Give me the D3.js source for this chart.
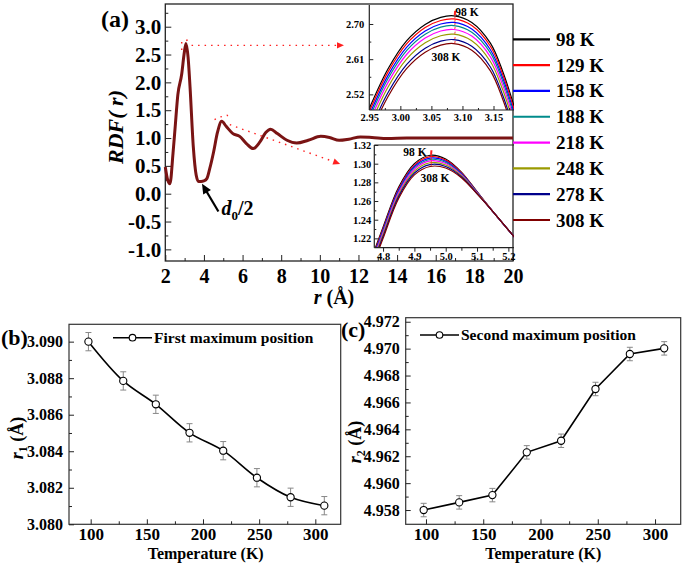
<!DOCTYPE html>
<html><head><meta charset="utf-8">
<script src="https://cdn.jsdelivr.net/npm/d3@7"></script>
<style>
body{margin:0;background:#fff;}
svg{display:block;background:#fff;}
</style></head><body>
<svg id="c" width="685" height="566"></svg>
<script>
// ---------------- DATA ----------------
const temps = [98, 129, 158, 188, 218, 248, 278, 308];
const tempLabels = ["98 K", "129 K", "158 K", "188 K", "218 K", "248 K", "278 K", "308 K"];
const seriesColors = ["#000000", "#ff0000", "#0000ff", "#008b8b", "#ff00ff", "#9a9a00", "#00008b", "#800000"];

// main RDF curve (all temperatures coincide at this scale)
const rdfR = [2.0, 2.12, 2.24, 2.4, 2.5, 2.65, 2.85, 2.97, 3.07, 3.18, 3.28, 3.45, 3.6, 3.72, 3.85, 4.0, 4.15, 4.3, 4.5, 4.7, 4.92, 5.15, 5.5, 5.85, 6.2, 6.55, 6.9, 7.2, 7.45, 7.8, 8.3, 8.8, 9.4, 10.05, 10.5, 11.0, 11.5, 12.1, 12.7, 13.5, 14.5, 15.5, 16.5, 17.5, 18.5, 20.0];
const rdfG = [0.48, 0.25, 0.18, 0.73, 1.15, 1.78, 2.15, 2.5, 2.70, 2.45, 1.92, 0.84, 0.33, 0.22, 0.22, 0.23, 0.27, 0.45, 0.75, 1.1, 1.30, 1.21, 1.08, 1.03, 0.90, 0.81, 0.93, 1.10, 1.16, 1.08, 0.96, 0.91, 0.96, 1.03, 1.01, 0.96, 0.98, 1.02, 1.01, 0.99, 1.0, 1.0, 1.0, 1.0, 1.0, 1.0];

// inset 1: first peak
const peak1R = [2.95, 2.98, 3.01, 3.04, 3.065, 3.086, 3.115, 3.145, 3.165, 3.183];
const peak1G = [
  [2.484, 2.585, 2.657, 2.699, 2.717, 2.721, 2.704, 2.651, 2.578, 2.490],
  [2.476, 2.577, 2.649, 2.691, 2.709, 2.713, 2.696, 2.643, 2.570, 2.482],
  [2.467, 2.568, 2.640, 2.682, 2.700, 2.704, 2.687, 2.634, 2.561, 2.473],
  [2.459, 2.560, 2.632, 2.674, 2.692, 2.696, 2.679, 2.626, 2.553, 2.465],
  [2.449, 2.550, 2.622, 2.664, 2.682, 2.686, 2.669, 2.616, 2.543, 2.455],
  [2.437, 2.538, 2.610, 2.652, 2.670, 2.674, 2.657, 2.604, 2.531, 2.443],
  [2.423, 2.524, 2.596, 2.638, 2.656, 2.660, 2.643, 2.590, 2.517, 2.429],
  [2.413, 2.514, 2.586, 2.628, 2.646, 2.650, 2.633, 2.580, 2.507, 2.419]
];

// inset 2: second peak
const peak2R = [4.77, 4.80, 4.85, 4.90, 4.95, 5.00, 5.05, 5.10, 5.15, 5.22];
const peak2G = [
  [1.2050, 1.2320, 1.2750, 1.3000, 1.3090, 1.3050, 1.2910, 1.2700, 1.249, 1.221],
  [1.2035, 1.2305, 1.2735, 1.2985, 1.3075, 1.3038, 1.2903, 1.2697, 1.249, 1.221],
  [1.2020, 1.2290, 1.2720, 1.2970, 1.3060, 1.3026, 1.2895, 1.2694, 1.249, 1.221],
  [1.2005, 1.2275, 1.2705, 1.2955, 1.3045, 1.3014, 1.2888, 1.2691, 1.249, 1.221],
  [1.1990, 1.2260, 1.2690, 1.2940, 1.3030, 1.3002, 1.2880, 1.2688, 1.249, 1.221],
  [1.1970, 1.2240, 1.2670, 1.2920, 1.3010, 1.2986, 1.2870, 1.2684, 1.249, 1.221],
  [1.1950, 1.2220, 1.2650, 1.2900, 1.2990, 1.2970, 1.2860, 1.2680, 1.249, 1.221],
  [1.1930, 1.2200, 1.2630, 1.2880, 1.2970, 1.2954, 1.2850, 1.2676, 1.249, 1.221]
];

// panel (b) and (c)
const firstMax = [3.0900, 3.08785, 3.08657, 3.08501, 3.08403, 3.08255, 3.08148, 3.08102];
const firstMaxErr = [0.0005, 0.0005, 0.0005, 0.0005, 0.0005, 0.0005, 0.0005, 0.0005];
const secondMax = [4.9580, 4.95857, 4.95911, 4.96229, 4.96315, 4.96700, 4.96960, 4.97002];
const secondMaxErr = [0.0005, 0.0005, 0.0005, 0.0005, 0.0005, 0.0005, 0.0005, 0.0005];

// tick values
const mainXTicks = [2, 4, 6, 8, 10, 12, 14, 16, 18, 20];
const mainXMinor = [3, 5, 7, 9, 11, 13, 15, 17, 19];
const mainYTicks = [-1.0, -0.5, 0.0, 0.5, 1.0, 1.5, 2.0, 2.5, 3.0];
const mainYMinor = [-0.75, -0.25, 0.25, 0.75, 1.25, 1.75, 2.25, 2.75, 3.25];
const in1XTicks = [2.95, 3.00, 3.05, 3.10, 3.15];
const in1XMinor = [2.975, 3.025, 3.075, 3.125, 3.175];
const in1YTicks = [2.52, 2.61, 2.70];
const in1YMinor = [2.565, 2.655];
const in2XTicks = [4.8, 4.9, 5.0, 5.1, 5.2];
const in2XMinor = [4.85, 4.95, 5.05, 5.15];
const in2YTicks = [1.22, 1.24, 1.26, 1.28, 1.30, 1.32];
const in2YMinor = [1.23, 1.25, 1.27, 1.29, 1.31];
const tempTicks = [100, 150, 200, 250, 300];
const tempMinor = [125, 175, 225, 275];
const bYTicks = [3.080, 3.082, 3.084, 3.086, 3.088, 3.090];
const bYMinor = [3.081, 3.083, 3.085, 3.087, 3.089];
const cYTicks = [4.958, 4.960, 4.962, 4.964, 4.966, 4.968, 4.970, 4.972];
const cYMinor = [4.959, 4.961, 4.963, 4.965, 4.967, 4.969, 4.971];

// ---------------- DRAW ----------------
const FONT = "'Liberation Serif','Times New Roman',serif";
const svg = d3.select("#c").attr("font-family", FONT).attr("font-weight", "bold");
const AX = "#222";

function drawAxis(kind, pos, scale, majors, minors, fmt, len, mlen, pad, fs) {
  const mk = s => kind === "left" ? d3.axisLeft(s) : d3.axisBottom(s);
  const tr = kind === "left" ? `translate(${pos},0)` : `translate(0,${pos})`;
  if (minors) {
    const gm = svg.append("g").attr("transform", tr)
      .call(mk(scale).tickValues(minors).tickSize(mlen).tickFormat(""));
    gm.select(".domain").remove();
    gm.selectAll("line").attr("stroke", AX);
  }
  const g = svg.append("g").attr("transform", tr)
    .call(mk(scale).tickValues(majors).tickSize(len).tickPadding(pad).tickFormat(fmt));
  g.select(".domain").remove();
  g.attr("font-family", FONT).attr("font-size", fs).attr("font-weight", "bold");
  g.selectAll("line").attr("stroke", AX);
  g.selectAll("text").attr("fill", "#000");
  return g;
}

// ===== Panel (a) main =====
const aL = 165.3, aR = 513, aT = 4, aB = 261;
const xA = d3.scaleLinear().domain([2, 20]).range([aL, aR]);
const yA = d3.scaleLinear().domain([-1.209, 3.408]).range([aB, aT]);

svg.append("rect").attr("x", aL).attr("y", aT).attr("width", aR - aL).attr("height", aB - aT)
  .attr("fill", "none").attr("stroke", AX).attr("stroke-width", 1.3);
drawAxis("bottom", aB, xA, mainXTicks, mainXMinor, d => d, -6, -3, 8, 20);
drawAxis("left", aL, yA, mainYTicks, mainYMinor, d => d.toFixed(1), -6, -3, 4, 21);

const rdfLine = d3.line().x(d => xA(d[0])).y(d => yA(d[1])).curve(d3.curveMonotoneX);
svg.append("path").datum(rdfR.map((r, i) => [r, rdfG[i]]))
  .attr("d", rdfLine).attr("fill", "none").attr("stroke", "#7a1414").attr("stroke-width", 3);

// red dotted zoom indicators
const red = "#ff2020";
const dl = d3.line().x(d => xA(d[0])).y(d => yA(d[1]));
function dotted(pts) {
  svg.append("path").attr("d", dl(pts)).attr("fill", "none").attr("stroke", red)
    .attr("stroke-width", 1.4).attr("stroke-dasharray", "1.5,5");
}
function arrowHead(p0, p1, color, size) {
  const x0 = xA(p0[0]), y0 = yA(p0[1]), x1 = xA(p1[0]), y1 = yA(p1[1]);
  const a = Math.atan2(y1 - y0, x1 - x0);
  const pts = [[x1, y1],
    [x1 - size * Math.cos(a) + size * 0.45 * Math.sin(a), y1 - size * Math.sin(a) - size * 0.45 * Math.cos(a)],
    [x1 - size * Math.cos(a) - size * 0.45 * Math.sin(a), y1 - size * Math.sin(a) + size * 0.45 * Math.cos(a)]];
  svg.append("polygon").attr("points", pts.map(p => p.join(",")).join(" ")).attr("fill", color);
}
dotted([[2.85, 2.58], [2.85, 2.73], [3.25, 2.77]]);
dotted([[3.36, 2.665], [11.0, 2.665]]);
arrowHead([3.36, 2.665], [11.25, 2.665], red, 7);
dotted([[4.55, 1.33], [4.75, 1.37], [5.2, 1.41], [5.4, 1.33]]);
dotted([[5.34, 1.24], [10.85, 0.56]]);
arrowHead([5.34, 1.24], [11.05, 0.535], red, 7);

// d0/2 arrow
svg.append("line").attr("x1", xA(4.75)).attr("y1", yA(-0.32)).attr("x2", xA(4.05)).attr("y2", yA(0.09))
  .attr("stroke", "#000").attr("stroke-width", 2.2);
arrowHead([4.75, -0.32], [3.9, 0.18], "#000", 10);
const dt = svg.append("text").attr("x", 221.5).attr("y", 215).attr("font-size", 20);
dt.append("tspan").attr("font-style", "italic").text("d");
dt.append("tspan").attr("font-size", 13).attr("dy", 5).text("0");
dt.append("tspan").attr("dy", -5).text("/2");

// axis titles & panel label
const yt = svg.append("text").attr("transform", "translate(123,127) rotate(-90)")
  .attr("text-anchor", "middle").attr("font-size", 22).attr("font-style", "italic");
yt.text("RDF( r)");
const xt = svg.append("text").attr("x", 334).attr("y", 304).attr("text-anchor", "middle").attr("font-size", 20);
xt.append("tspan").attr("font-style", "italic").text("r");
xt.append("tspan").text(" (Å)");
svg.append("text").attr("x", 101).attr("y", 27).attr("font-size", 24).text("(a)");

// ===== Inset 1 =====
const i1L = 369.3, i1R = 514, i1T = 5, i1B = 110;
const xI1 = d3.scaleLinear().domain([2.95, 3.183]).range([i1L, i1R]);
const yI1 = d3.scaleLinear().domain([2.48, 2.7486]).range([i1B, i1T]);
svg.append("clipPath").attr("id", "clip1").append("rect")
  .attr("x", i1L).attr("y", i1T).attr("width", i1R - i1L).attr("height", i1B - i1T);
const g1 = svg.append("g").attr("clip-path", "url(#clip1)");
const l1 = d3.line().x(d => xI1(d[0])).y(d => yI1(d[1])).curve(d3.curveCatmullRom.alpha(0.5));
peak1G.forEach((ser, k) => {
  g1.append("path").datum(peak1R.map((r, i) => [r, ser[i]])).attr("d", l1)
    .attr("fill", "none").attr("stroke", seriesColors[k]).attr("stroke-width", 1.2);
});
peak1G.forEach((ser, k) => {
  const im = d3.maxIndex(ser);
  const px = xI1(peak1R[im]) + 1, py = yI1(ser[im]);
  g1.append("line").attr("x1", px + 0.4).attr("x2", px)
    .attr("y1", k === 0 ? py - 5 : py - 2.5).attr("y2", py - 0.5)
    .attr("stroke", red).attr("stroke-width", k === 0 ? 2 : 0.9);
});
svg.append("line").attr("x1", i1L).attr("x2", i1L).attr("y1", i1T).attr("y2", i1B).attr("stroke", AX).attr("stroke-width", 1.2);
svg.append("line").attr("x1", i1L).attr("x2", i1R).attr("y1", i1B).attr("y2", i1B).attr("stroke", AX).attr("stroke-width", 1.2);
drawAxis("bottom", i1B, xI1, in1XTicks, in1XMinor, d => d.toFixed(2), -4, -2, 4, 10.5);
drawAxis("left", i1L, yI1, in1YTicks, in1YMinor, d => d.toFixed(2), -4, -2, 5, 10.5);
svg.append("text").attr("x", 467).attr("y", 15.5).attr("text-anchor", "middle").attr("font-size", 11.5).text("98 K");
svg.append("text").attr("x", 446).attr("y", 61).attr("text-anchor", "middle").attr("font-size", 11.5).text("308 K");

// ===== Inset 2 =====
const i2L = 374.3, i2R = 514, i2T = 145, i2B = 247.7;
const xI2 = d3.scaleLinear().domain([4.772, 5.218]).range([i2L, i2R]);
const yI2 = d3.scaleLinear().domain([1.21, 1.32]).range([i2B, i2T]);
svg.append("clipPath").attr("id", "clip2").append("rect")
  .attr("x", i2L).attr("y", i2T).attr("width", i2R - i2L).attr("height", i2B - i2T);
const g2 = svg.append("g").attr("clip-path", "url(#clip2)");
const l2 = d3.line().x(d => xI2(d[0])).y(d => yI2(d[1])).curve(d3.curveCatmullRom.alpha(0.5));
peak2G.forEach((ser, k) => {
  g2.append("path").datum(peak2R.map((r, i) => [r, ser[i]])).attr("d", l2)
    .attr("fill", "none").attr("stroke", seriesColors[k]).attr("stroke-width", 1.2);
});
peak2G.forEach((ser, k) => {
  const im = d3.maxIndex(ser);
  const px = xI2(peak2R[im]) + 1, py = yI2(ser[im]);
  g2.append("line").attr("x1", px + 0.4).attr("x2", px)
    .attr("y1", k === 0 ? py - 5 : py - 2).attr("y2", py - 0.5)
    .attr("stroke", red).attr("stroke-width", k === 0 ? 2 : 0.9);
});
svg.append("line").attr("x1", i2L).attr("x2", i2R).attr("y1", i2T).attr("y2", i2T).attr("stroke", AX).attr("stroke-width", 1.2);
svg.append("line").attr("x1", i2L).attr("x2", i2L).attr("y1", i2T).attr("y2", i2B).attr("stroke", AX).attr("stroke-width", 1.2);
svg.append("line").attr("x1", i2L).attr("x2", i2R).attr("y1", i2B).attr("y2", i2B).attr("stroke", AX).attr("stroke-width", 1.2);
drawAxis("bottom", i2B, xI2, in2XTicks, in2XMinor, d => d.toFixed(1), 4, 3, 1, 10.5);
drawAxis("left", i2L, yI2, in2YTicks, in2YMinor, d => d.toFixed(2), -4, -2, 3, 10.5);
svg.append("text").attr("x", 415).attr("y", 155.5).attr("text-anchor", "middle").attr("font-size", 11.5).text("98 K");
svg.append("text").attr("x", 435).attr("y", 182).attr("text-anchor", "middle").attr("font-size", 11.5).text("308 K");

// ===== Legend (a) =====
const legY = d3.scalePoint().domain(tempLabels).range([39.3, 220]);
tempLabels.forEach((lab, k) => {
  svg.append("line").attr("x1", aR).attr("x2", 550).attr("y1", legY(lab)).attr("y2", legY(lab))
    .attr("stroke", seriesColors[k]).attr("stroke-width", 2.2);
  svg.append("text").attr("x", 556).attr("y", legY(lab) + 6.5).attr("font-size", 19).text(lab);
});

// ===== Panels (b) & (c) =====
function tempPanel(opt) {
  const { L, R, T, B, xDom, yDom, vals, errs, yTicks, yMinor, fmt, curve, legX, legY, legText, label, labelPos, yTitleSub, yTitleX, yTitleY, xTitleX, xTitleY } = opt;
  const x = d3.scaleLinear().domain(xDom).range([L, R]);
  const y = d3.scaleLinear().domain(yDom).range([B, T]);
  svg.append("rect").attr("x", L).attr("y", T).attr("width", R - L).attr("height", B - T)
    .attr("fill", "none").attr("stroke", "#333").attr("stroke-width", 1.2);
  drawAxis("bottom", B, x, tempTicks, tempMinor, d => d, -5, -3, 4, 17);
  drawAxis("left", L, y, yTicks, yMinor, fmt, -5, -3, 6, 16);
  // error bars
  temps.forEach((t, i) => {
    const cx = x(t), y1 = y(vals[i] - errs[i]), y2 = y(vals[i] + errs[i]);
    svg.append("line").attr("x1", cx).attr("x2", cx).attr("y1", y1).attr("y2", y2).attr("stroke", "#888").attr("stroke-width", 1);
    [y1, y2].forEach(yy => svg.append("line").attr("x1", cx - 3).attr("x2", cx + 3).attr("y1", yy).attr("y2", yy).attr("stroke", "#888").attr("stroke-width", 1));
  });
  const ln = d3.line().x((d, i) => x(temps[i])).y(d => y(d)).curve(curve);
  svg.append("path").datum(vals).attr("d", ln).attr("fill", "none").attr("stroke", "#000").attr("stroke-width", 1.6);
  temps.forEach((t, i) => {
    svg.append("circle").attr("cx", x(t)).attr("cy", y(vals[i])).attr("r", 3.6)
      .attr("fill", "#fff").attr("stroke", "#000").attr("stroke-width", 1.1);
  });
  // legend
  svg.append("line").attr("x1", legX).attr("x2", legX + 39).attr("y1", legY).attr("y2", legY).attr("stroke", "#000").attr("stroke-width", 1.6);
  svg.append("circle").attr("cx", legX + 19.5).attr("cy", legY).attr("r", 3.3).attr("fill", "#fff").attr("stroke", "#000").attr("stroke-width", 1.1);
  svg.append("text").attr("x", legX + 41).attr("y", legY + 5.3).attr("font-size", 15.5).text(legText);
  svg.append("text").attr("x", labelPos[0]).attr("y", labelPos[1]).attr("font-size", 22).text(label);
  const yt = svg.append("text").attr("transform", `translate(${yTitleX},${yTitleY}) rotate(-90)`)
    .attr("text-anchor", "middle").attr("font-size", 18);
  yt.append("tspan").attr("font-style", "italic").text("r");
  yt.append("tspan").attr("font-size", 12).attr("dy", 4).text(yTitleSub);
  yt.append("tspan").attr("dy", -4).text(" (Å)");
  svg.append("text").attr("x", xTitleX).attr("y", xTitleY).attr("text-anchor", "middle").attr("font-size", 16).text("Temperature (K)");
}

tempPanel({
  L: 69, R: 340.7, T: 324.3, B: 524.3, xDom: [80.7, 322.6], yDom: [3.080, 3.09095],
  vals: firstMax, errs: firstMaxErr, yTicks: bYTicks, yMinor: bYMinor, fmt: d => d.toFixed(3),
  curve: d3.curveCatmullRom.alpha(0.5), legX: 113, legY: 337.7, legText: "First maximum position",
  label: "(b)", labelPos: [1, 345], yTitleSub: "1", yTitleX: 23, yTitleY: 438, xTitleX: 205.7, xTitleY: 559
});
tempPanel({
  L: 405.7, R: 680.7, T: 317.7, B: 524.3, xDom: [82.3, 322.4], yDom: [4.95694, 4.9723],
  vals: secondMax, errs: secondMaxErr, yTicks: cYTicks, yMinor: cYMinor, fmt: d => d.toFixed(3),
  curve: d3.curveLinear, legX: 420, legY: 335, legText: "Second maximum position",
  label: "(c)", labelPos: [341, 337], yTitleSub: "2", yTitleX: 361, yTitleY: 442, xTitleX: 543.3, xTitleY: 559
});
</script></body></html>
